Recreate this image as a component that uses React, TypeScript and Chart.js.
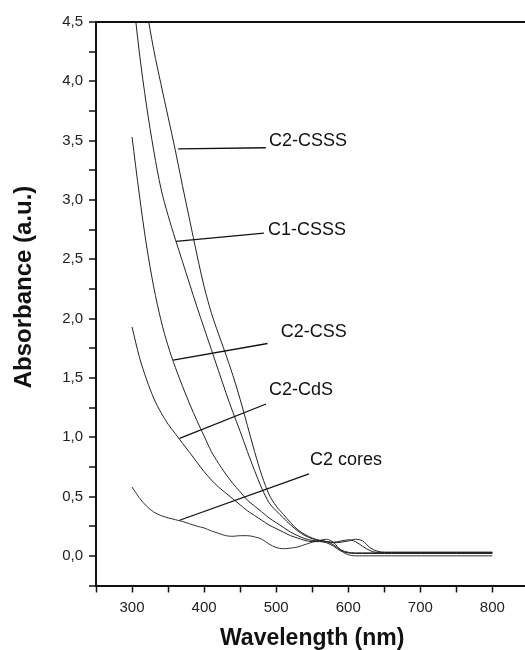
import React, { useEffect, useRef } from "react";
import { Chart, registerables } from "chart.js";

Chart.register(...registerables);

const wavelengths = [300, 310, 320, 330, 340, 350, 360, 370, 380, 390, 400, 410, 420, 430, 440, 450, 460, 470, 480, 490, 500, 510, 520, 530, 540, 550, 560, 570, 580, 590, 600, 610, 620, 630, 640, 650, 660, 680, 700, 750, 800];

const c2CSSS = [5.6, 5.05, 4.62, 4.27, 3.98, 3.7, 3.42, 3.12, 2.83, 2.54, 2.27, 2.05, 1.87, 1.7, 1.52, 1.32, 1.1, 0.88, 0.68, 0.52, 0.42, 0.35, 0.28, 0.22, 0.18, 0.15, 0.13, 0.12, 0.11, 0.115, 0.125, 0.14, 0.125, 0.07, 0.04, 0.03, 0.03, 0.03, 0.03, 0.03, 0.03];
const c1CSSS = [4.8, 4.25, 3.8, 3.42, 3.1, 2.87, 2.67, 2.48, 2.29, 2.1, 1.92, 1.74, 1.56, 1.38, 1.21, 1.05, 0.88, 0.72, 0.57, 0.45, 0.38, 0.32, 0.26, 0.21, 0.17, 0.145, 0.13, 0.12, 0.115, 0.125, 0.135, 0.12, 0.08, 0.045, 0.03, 0.03, 0.03, 0.03, 0.03, 0.03, 0.03];
const c2CSS = [3.53, 3.05, 2.62, 2.27, 1.99, 1.77, 1.59, 1.43, 1.28, 1.14, 1.01, 0.88, 0.78, 0.69, 0.61, 0.54, 0.47, 0.42, 0.37, 0.32, 0.28, 0.24, 0.2, 0.17, 0.145, 0.13, 0.125, 0.12, 0.09, 0.05, 0.03, 0.025, 0.025, 0.025, 0.025, 0.025, 0.025, 0.025, 0.025, 0.025, 0.025];
const c2CdS = [1.93, 1.68, 1.49, 1.33, 1.21, 1.11, 1.03, 0.95, 0.87, 0.79, 0.71, 0.64, 0.58, 0.53, 0.48, 0.43, 0.38, 0.34, 0.3, 0.26, 0.23, 0.2, 0.17, 0.15, 0.13, 0.12, 0.12, 0.11, 0.08, 0.04, 0.025, 0.02, 0.02, 0.02, 0.02, 0.02, 0.02, 0.02, 0.02, 0.02, 0.02];
const c2Cores = [0.58, 0.49, 0.42, 0.37, 0.34, 0.32, 0.305, 0.29, 0.27, 0.25, 0.235, 0.21, 0.19, 0.17, 0.165, 0.17, 0.17, 0.16, 0.14, 0.1, 0.07, 0.06, 0.065, 0.075, 0.095, 0.115, 0.13, 0.14, 0.11, 0.045, 0.01, 0.0, 0.0, 0.0, 0.0, 0.0, 0.0, 0.0, 0.0, 0.0, 0.0];

const seriesNames = ["C2-CSSS", "C1-CSSS", "C2-CSS", "C2-CdS", "C2 cores"];
const seriesValues = [c2CSSS, c1CSSS, c2CSS, c2CdS, c2Cores];
const seriesColors = ["#222", "#222", "#222", "#222", "#333"];

// annotation leader lines (data units)
const annotationLabels = ["C2-CSSS", "C1-CSSS", "C2-CSS", "C2-CdS", "C2 cores"];
const annotationFromX = [364, 361, 357, 366, 366];
const annotationFromY = [3.43, 2.65, 1.65, 0.99, 0.3];
const annotationToX = [485.6, 483, 488, 486, 545.6];
const annotationToY = [3.44, 2.72, 1.79, 1.28, 0.69];
const annotationTextX = [490, 488.5, 506.5, 490, 547];
const annotationTextY = [3.5, 2.75, 1.89, 1.4, 0.81];

const xMin = 250;
const xMax = 850;
const yMin = -0.25;
const yMax = 4.5;

const yTitle = "Absorbance (a.u.)";
const xTitle = "Wavelength (nm)";

const FONT = "'Liberation Sans', Arial, sans-serif";

export default function App() {
  const ref = useRef<HTMLCanvasElement | null>(null);

  useEffect(() => {
    if (!ref.current) return;

    const annotationPlugin = {
      id: "leaders",
      afterDatasetsDraw(chart: any) {
        const { ctx, scales } = chart;
        const xs = scales.x;
        const ys = scales.y;
        ctx.save();
        ctx.strokeStyle = "#111";
        ctx.lineWidth = 1.3;
        ctx.fillStyle = "#111";
        ctx.font = `18px ${FONT}`;
        ctx.textAlign = "left";
        ctx.textBaseline = "middle";
        for (let i = 0; i < annotationLabels.length; i++) {
          ctx.beginPath();
          ctx.moveTo(xs.getPixelForValue(annotationFromX[i]), ys.getPixelForValue(annotationFromY[i]));
          ctx.lineTo(xs.getPixelForValue(annotationToX[i]), ys.getPixelForValue(annotationToY[i]));
          ctx.stroke();
          ctx.fillText(annotationLabels[i], xs.getPixelForValue(annotationTextX[i]), ys.getPixelForValue(annotationTextY[i]));
        }
        ctx.restore();
      },
      afterDraw(chart: any) {
        const { ctx } = chart;
        ctx.save();
        ctx.translate(24, 287);
        ctx.rotate(-Math.PI / 2);
        ctx.font = `bold 24px ${FONT}`;
        ctx.fillStyle = "#111";
        ctx.textAlign = "center";
        ctx.textBaseline = "middle";
        ctx.fillText(yTitle, 0, 0);
        ctx.restore();
      },
    };

    const chart = new Chart(ref.current, {
      type: "line",
      data: {
        datasets: seriesNames.map((name, i) => ({
          label: name,
          data: wavelengths.map((w, j) => ({ x: w, y: seriesValues[i][j] })),
          borderColor: seriesColors[i],
          borderWidth: 1,
          pointRadius: 0,
          fill: false,
          cubicInterpolationMode: "monotone" as const,
        })),
      },
      options: {
        responsive: false,
        animation: false,
        devicePixelRatio: 1,
        layout: { padding: { left: 0, top: 22, right: 11.6, bottom: 0 } },
        plugins: {
          legend: { display: false },
          tooltip: { enabled: false },
        },
        scales: {
          x: {
            type: "linear",
            min: xMin,
            max: xMax,
            afterFit: (s: any) => {
              s.height = 64.5;
            },
            ticks: {
              stepSize: 50,
              autoSkip: false,
              maxRotation: 0,
              padding: 6,
              color: "#222",
              font: { family: FONT, size: 15 },
              callback: (v: any) => (Number(v) % 100 === 0 ? String(v) : ""),
            },
            grid: {
              drawOnChartArea: false,
              drawTicks: true,
              tickLength: 7,
              tickColor: "#111",
              tickWidth: 1.5,
            },
            border: { display: true, color: "#111", width: 2 },
            title: {
              display: true,
              text: xTitle,
              color: "#111",
              font: { family: FONT, size: 23, weight: "bold", lineHeight: 1 },
              padding: { top: 0, bottom: 0 },
            },
          },
          y: {
            type: "linear",
            min: yMin,
            max: yMax,
            afterFit: (s: any) => {
              s.width = 96;
            },
            ticks: {
              stepSize: 0.25,
              autoSkip: false,
              padding: 6,
              color: "#222",
              font: { family: FONT, size: 15 },
              callback: (v: any) => {
                const n = Number(v);
                return Math.abs(n * 2 - Math.round(n * 2)) < 1e-6 ? n.toFixed(1).replace(".", ",") : "";
              },
            },
            grid: {
              drawOnChartArea: true,
              drawTicks: true,
              tickLength: 7,
              tickColor: "#111",
              tickWidth: 1.5,
              lineWidth: 2,
              color: (ctx: any) => (ctx.tick && Math.abs(ctx.tick.value - yMax) < 1e-6 ? "#111" : "rgba(0,0,0,0)"),
            },
            border: { display: true, color: "#111", width: 2 },
            title: { display: false },
          },
        },
      },
      plugins: [annotationPlugin],
    });

    return () => chart.destroy();
  }, []);

  return (
    <div style={{ position: "fixed", left: 0, top: 0, width: 525, height: 650, overflow: "hidden", background: "#fff" }}>
      <canvas ref={ref} width={540} height={650} style={{ display: "block" }} />
    </div>
  );
}
